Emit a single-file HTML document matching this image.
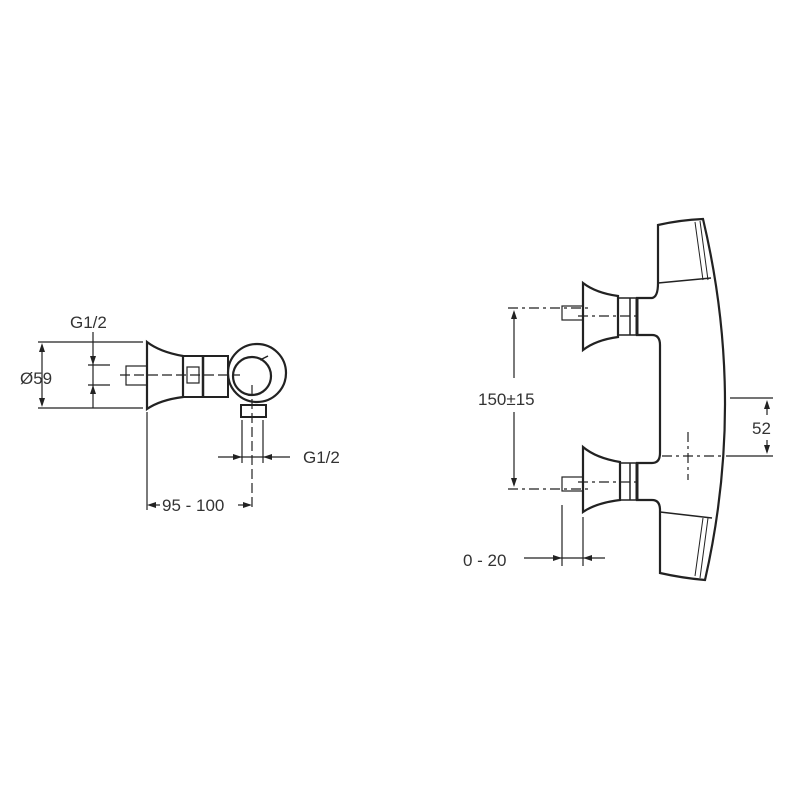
<!DOCTYPE html>
<html><head><meta charset="utf-8"><style>html,body{margin:0;padding:0;background:#fff}svg{display:block}text{font-family:"Liberation Sans",sans-serif;font-size:17px;fill:#333}</style></head><body>
<svg width="800" height="800" viewBox="0 0 800 800" xmlns="http://www.w3.org/2000/svg">
<g fill="none" stroke="#222" stroke-width="1.2">
<!-- LEFT VIEW -->
<path d="M147,342 Q160,352 183,356 L183,397 Q160,400 147,409 Z" stroke-width="2.2"/>
<rect x="183" y="356" width="45" height="41" stroke-width="2"/>
<line x1="203" y1="356" x2="203" y2="397" stroke-width="2.5"/>
<circle cx="257" cy="373" r="29" stroke-width="2.2"/>
<circle cx="252" cy="376" r="19" stroke-width="2.2"/>
<line x1="260" y1="360" x2="268" y2="356" stroke-width="1.5"/>
<rect x="241" y="405" width="25" height="12" stroke-width="2"/>
<rect x="126" y="366" width="21" height="19"/>
<rect x="187" y="367" width="12" height="16"/>
<line x1="120" y1="375" x2="240" y2="375" stroke-dasharray="10,4"/>
<line x1="252" y1="385" x2="252" y2="510" stroke-dasharray="10,4"/>
<line x1="38" y1="342" x2="143" y2="342"/>
<line x1="38" y1="408" x2="143" y2="408"/>
<line x1="42" y1="345" x2="42" y2="405"/>
<line x1="88" y1="365" x2="110" y2="365"/>
<line x1="88" y1="385" x2="110" y2="385"/>
<line x1="93" y1="332" x2="93" y2="408"/>
<line x1="242" y1="420" x2="242" y2="463"/>
<line x1="263" y1="420" x2="263" y2="463"/>
<line x1="218" y1="457" x2="290" y2="457"/>
<line x1="147" y1="412" x2="147" y2="510"/>
<line x1="150" y1="505" x2="160" y2="505"/>
<line x1="238" y1="505" x2="250" y2="505"/>
<!-- RIGHT VIEW -->
<path d="M658,283 L658,225 Q680,220 703,219 Q746,400 705,580 Q682,578 660,573 L660,510 Q660,500 652,500 L637,500 L637,463 L652,463 Q660,463 660,453 L660,345 Q660,335 652,335 L637,335 L637,298 L652,298 Q658,297 658,283 Z" stroke-width="2.2"/>
<line x1="658" y1="283" x2="711" y2="278" stroke-width="1.5"/>
<line x1="660" y1="512" x2="712" y2="518" stroke-width="1.5"/>
<path d="M695,222 L703,280 M700,221 L708,280 M695,576 L703,518 M700,578 L708,518" stroke-width="1"/>
<path d="M583,283 Q596,293 618,296 L618,337 Q596,340 583,350 Z" stroke-width="2.2"/>
<path d="M618,298 L637,298 M618,335 L637,335 M630,298 L630,335" stroke-width="1.5"/>
<line x1="637" y1="298" x2="637" y2="335" stroke-width="3"/>
<rect x="562" y="306" width="21" height="14"/>
<path d="M583,447 Q596,458 620,462 L620,500 Q596,503 583,512 Z" stroke-width="2.2"/>
<path d="M620,463 L637,463 M620,500 L637,500 M630,463 L630,500" stroke-width="1.5"/>
<line x1="637" y1="463" x2="637" y2="500" stroke-width="3"/>
<rect x="562" y="477" width="21" height="14"/>
<line x1="508" y1="308" x2="590" y2="308" stroke-dasharray="10,4,3,4"/>
<line x1="578" y1="316" x2="640" y2="316" stroke-dasharray="10,4,3,4"/>
<line x1="508" y1="489" x2="590" y2="489" stroke-dasharray="10,4,3,4"/>
<line x1="578" y1="482" x2="640" y2="482" stroke-dasharray="10,4,3,4"/>
<line x1="514" y1="312" x2="514" y2="378"/>
<line x1="514" y1="412" x2="514" y2="485"/>
<line x1="662" y1="456" x2="722" y2="456" stroke-dasharray="10,4,3,4"/>
<line x1="688" y1="432" x2="688" y2="480" stroke-dasharray="10,4,3,4"/>
<line x1="730" y1="398" x2="773" y2="398"/>
<line x1="726" y1="456" x2="773" y2="456"/>
<line x1="767" y1="402" x2="767" y2="415"/>
<line x1="767" y1="440" x2="767" y2="452"/>
<line x1="562" y1="505" x2="562" y2="566"/>
<line x1="583" y1="517" x2="583" y2="566"/>
<line x1="524" y1="558" x2="605" y2="558"/>
</g>
<g fill="#222">
<path d="M42,343 l-3,9 h6z M42,407 l-3,-9 h6z M93,365 l-3,-9 h6z M93,385 l-3,9 h6z M242,457 l-9,-3 v6z M263,457 l9,-3 v6z M147,505 l9,-3 v6z M252,505 l-9,-3 v6z M514,310 l-3,9 h6z M514,487 l-3,-9 h6z M767,400 l-3,9 h6z M767,454 l-3,-9 h6z M562,558 l-9,-3 v6z M583,558 l9,-3 v6z"/>
</g>
<text x="70" y="328">G1/2</text>
<text x="20" y="384">Ø59</text>
<text x="303" y="463">G1/2</text>
<text x="162" y="511">95 - 100</text>
<text x="478" y="405">150±15</text>
<text x="752" y="434">52</text>
<text x="463" y="566">0 - 20</text>
</svg>
</body></html>
